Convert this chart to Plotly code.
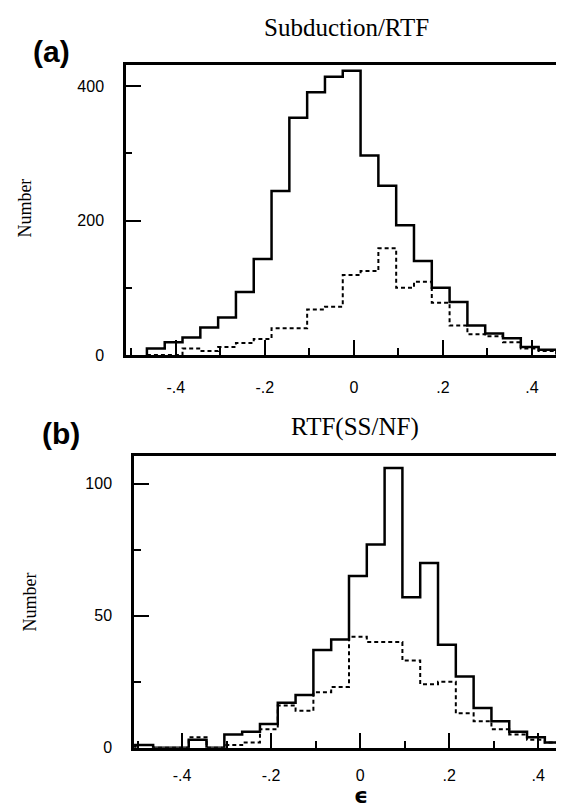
import plotly.graph_objects as go

# histogram bins of epsilon, width 0.04
bin_width = 0.04

# (a) Subduction/RTF
centres_a = [-0.445, -0.405, -0.365, -0.325, -0.285, -0.245, -0.205, -0.165,
             -0.125, -0.085, -0.045, -0.005, 0.035, 0.075, 0.115, 0.155,
             0.195, 0.235, 0.275, 0.315, 0.355, 0.395, 0.435, 0.475]
solid_a = [10, 19, 26, 41, 56, 94, 143, 244, 353, 391, 414, 423,
           297, 252, 193, 140, 100, 79, 44, 32, 25, 12, 8, 3]
dashed_a = [0, 0, 10, 6, 12, 18, 24, 40, 40, 68, 72, 119,
            125, 159, 100, 109, 78, 44, 31, 28, 19, 10, 6, 2]

# (b) RTF(SS/NF)
centres_b = [-0.485, -0.445, -0.405, -0.365, -0.325, -0.285, -0.245, -0.205,
             -0.165, -0.125, -0.085, -0.045, -0.005, 0.035, 0.075, 0.115,
             0.155, 0.195, 0.235, 0.275, 0.315, 0.355, 0.395, 0.435, 0.475]
solid_b = [1, 0, 0, 3, 0, 5, 6, 9, 17, 20, 37, 41, 65, 77, 106, 57,
           70, 39, 27, 15, 10, 6, 4, 2, 1]
dashed_b = [1, 0, 0, 4, 0, 1, 2, 7, 16, 14, 21, 23, 42, 40, 40, 33,
            24, 25, 13, 10, 7, 5, 3, 2, 1]

x_tickvals = [-0.4, -0.2, 0, 0.2, 0.4]
x_ticktext = ["-.4", "-.2", "0", ".2", ".4"]
ya_tickvals = [0, 200, 400]
yb_tickvals = [0, 50, 100]


def step_xy(centres, counts):
    edges = [c - bin_width / 2 for c in centres]
    xs = [edges[0]] + edges + [centres[-1] + bin_width / 2]
    ys = [0] + list(counts) + [0]
    return xs, ys


fig = go.Figure()

for centres, counts, dash, width, xa, ya in [
    (centres_a, solid_a, "solid", 2.5, "x", "y"),
    (centres_a, dashed_a, "4px,3px", 2, "x", "y"),
    (centres_b, solid_b, "solid", 2.5, "x2", "y2"),
    (centres_b, dashed_b, "4px,3px", 2, "x2", "y2"),
]:
    xs, ys = step_xy(centres, counts)
    fig.add_trace(go.Scatter(x=xs, y=ys, mode="lines", line_shape="hv",
                             line=dict(color="black", width=width, dash=dash),
                             xaxis=xa, yaxis=ya, hoverinfo="skip"))

tick_font = dict(family="Liberation Sans", size=16, color="black")
common = dict(showline=True, linecolor="black", linewidth=2.5, ticks="inside",
              ticklen=15, tickwidth=2, tickcolor="black", showgrid=False,
              zeroline=False, tickfont=tick_font, ticklabelstandoff=16)

fig.update_layout(
    width=564, height=811,
    margin=dict(l=0, r=0, t=0, b=0),
    paper_bgcolor="white", plot_bgcolor="white",
    showlegend=False,
    xaxis=dict(common, domain=[0.2092, 0.9929], range=[-0.512, 0.481], anchor="y",
               mirror=True, tickmode="array", tickvals=x_tickvals, ticktext=x_ticktext,
               minor=dict(dtick=0.1, tick0=0, ticks="inside", ticklen=7,
                          tickwidth=2, tickcolor="black")),
    yaxis=dict(common, domain=[0.5672, 0.9285], range=[0, 431], anchor="x",
               mirror=True, tickmode="array", tickvals=ya_tickvals,
               minor=dict(dtick=100, tick0=0, ticks="inside", ticklen=6,
                          tickwidth=2, tickcolor="black")),
    xaxis2=dict(common, domain=[0.2234, 1.0], range=[-0.508, 0.476], anchor="y2",
                mirror=True, tickmode="array", tickvals=x_tickvals, ticktext=x_ticktext,
                ticklabelstandoff=11,
                minor=dict(dtick=0.1, tick0=0, ticks="inside", ticklen=7,
                           tickwidth=2, tickcolor="black")),
    yaxis2=dict(common, domain=[0.0777, 0.4414], range=[0, 110.5], anchor="x2",
                tickmode="array", tickvals=yb_tickvals,
                minor=dict(dtick=25, tick0=0, ticks="inside", ticklen=7,
                           tickwidth=2, tickcolor="black")),
)

serif = "Liberation Serif"
annos = [
    dict(text="<b>(a)</b>", x=0.078, y=0.9457, font=dict(family="Liberation Sans", size=30)),
    dict(text="<b>(b)</b>", x=0.094, y=0.4698, font=dict(family="Liberation Sans", size=30)),
    dict(text="Subduction/RTF", x=0.601, y=0.9753, font=dict(family=serif, size=25)),
    dict(text="RTF(SS/NF)", x=0.615, y=0.4772, font=dict(family=serif, size=25)),
    dict(text="Number", x=0.030, y=0.751, textangle=-90, font=dict(family=serif, size=18)),
    dict(text="Number", x=0.039, y=0.260, textangle=-90, font=dict(family=serif, size=18)),
]
for a in annos:
    a["font"]["color"] = "black"
    fig.add_annotation(xref="paper", yref="paper", showarrow=False,
                       xanchor="center", yanchor="middle", **a)

# epsilon axis label, sitting on the bottom edge
fig.add_annotation(xref="paper", yref="paper", showarrow=False, text="<b>ϵ</b>",
                   x=0.626, y=0, xanchor="center", yanchor="bottom",
                   font=dict(family="DejaVu Sans", size=22, color="black"))

fig.write_html("out.html")
